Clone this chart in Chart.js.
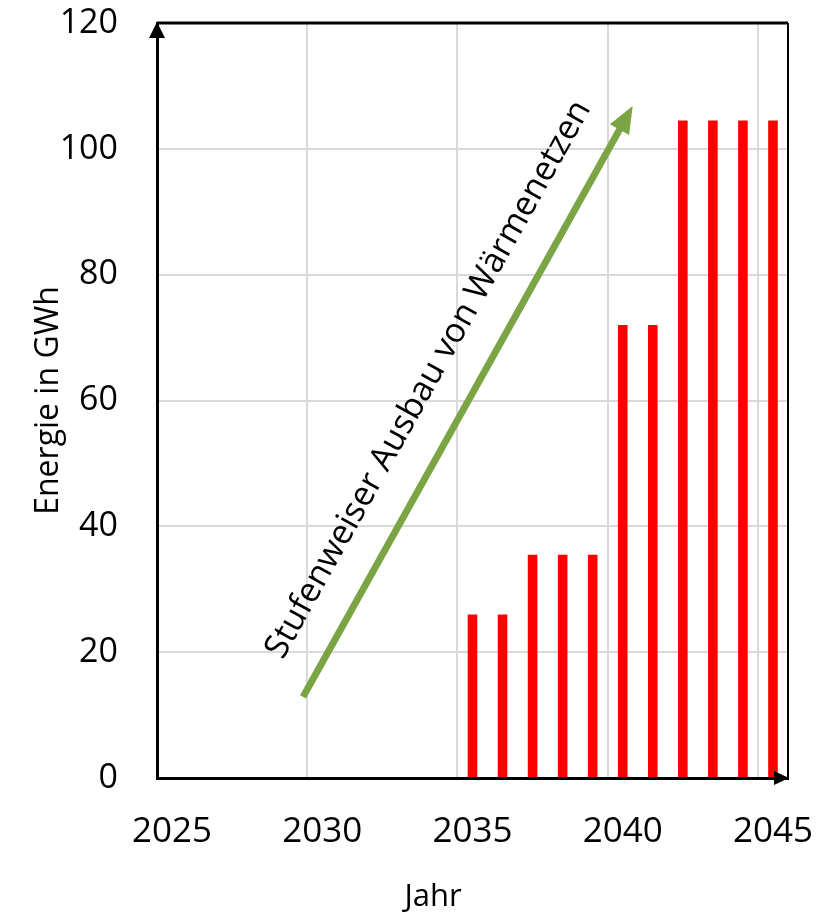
<!DOCTYPE html>
<html>
<head>
<meta charset="utf-8">
<title>Energie in GWh</title>
<script src="https://cdn.jsdelivr.net/npm/chart.js@4.4.1/dist/chart.umd.min.js"></script>
<style>
  html, body { margin: 0; padding: 0; background: #fff; }
  #wrap { width: 829px; height: 917px; }
</style>
</head>
<body>
<div id="wrap"><canvas id="chart" width="829" height="917"></canvas></div>
<script>
// Jahre (Kategorien) und Energie in GWh
var years = ['2025', '2026', '2027', '2028', '2029', '2030', '2031', '2032', '2033', '2034',
             '2035', '2036', '2037', '2038', '2039', '2040', '2041', '2042', '2043', '2044', '2045'];
var energy = [null, null, null, null, null, null, null, null, null, null,
              26, 26, 35.5, 35.5, 35.5, 72, 72, 104.5, 104.5, 104.5, 104.5];
var yTicks = [0, 20, 40, 60, 80, 100, 120];

// Pfeil "Stufenweiser Ausbau": Anfang und Spitze in Datenkoordinaten (Jahr, GWh)
var arrowYears = [2029.86, 2040.83];
var arrowValues = [12.9, 106.8];
var arrowText = 'Stufenweiser Ausbau von Wärmenetzen';

var fontFamily = '"Open Sans", "Noto Sans", sans-serif';

// Kategorie "2025" reicht von 2025 bis 2026 -> Index = Jahr - 2025.5
function yearToIndex(y) { return y - 2025.5; }

// Beschriftungen sollen den Plotbereich nicht verschieben
function noLabelPadding(s) {
  s.paddingTop = 0;
  s.paddingBottom = 0;
  s.paddingLeft = 0;
  s.paddingRight = 0;
}

var framePlugin = {
  id: 'frame',
  afterDraw: function(chart) {
    var ctx = chart.ctx;
    var a = chart.chartArea;
    var xs = chart.scales.x, ys = chart.scales.y;
    ctx.save();

    // oberer und rechter Rahmen
    ctx.strokeStyle = '#000';
    ctx.lineWidth = 3;
    ctx.beginPath();
    ctx.moveTo(a.left, a.top);
    ctx.lineTo(a.right, a.top);
    ctx.stroke();
    ctx.lineWidth = 2;
    ctx.beginPath();
    ctx.moveTo(a.right, a.top);
    ctx.lineTo(a.right, a.bottom);
    ctx.stroke();

    // Achsenpfeile
    ctx.fillStyle = '#000';
    ctx.beginPath();
    ctx.moveTo(a.left, a.top - 1);
    ctx.lineTo(a.left - 8, a.top + 15);
    ctx.lineTo(a.left + 8, a.top + 15);
    ctx.closePath();
    ctx.fill();
    ctx.beginPath();
    ctx.moveTo(a.right + 1, a.bottom);
    ctx.lineTo(a.right - 14, a.bottom - 7);
    ctx.lineTo(a.right - 14, a.bottom + 7);
    ctx.closePath();
    ctx.fill();

    // grüner Pfeil
    var x0 = xs.getPixelForValue(yearToIndex(arrowYears[0]));
    var y0 = ys.getPixelForValue(arrowValues[0]);
    var x1 = xs.getPixelForValue(yearToIndex(arrowYears[1]));
    var y1 = ys.getPixelForValue(arrowValues[1]);
    var ang = Math.atan2(y1 - y0, x1 - x0);
    var headLen = 27, headHalf = 11;
    var bx = x1 - headLen * Math.cos(ang), by = y1 - headLen * Math.sin(ang);
    ctx.strokeStyle = '#7ba545';
    ctx.fillStyle = '#7ba545';
    ctx.lineWidth = 7;
    ctx.beginPath();
    ctx.moveTo(x0, y0);
    ctx.lineTo(bx + 2 * Math.cos(ang), by + 2 * Math.sin(ang));
    ctx.stroke();
    ctx.beginPath();
    ctx.moveTo(x1, y1);
    ctx.lineTo(bx + headHalf * Math.sin(ang), by - headHalf * Math.cos(ang));
    ctx.lineTo(bx - headHalf * Math.sin(ang), by + headHalf * Math.cos(ang));
    ctx.closePath();
    ctx.fill();

    // Beschriftung entlang des Pfeils
    var mx = (x0 + x1) / 2, my = (y0 + y1) / 2;
    var off = 45;
    var tx = mx + off * Math.sin(ang), ty = my - off * Math.cos(ang);
    ctx.translate(tx, ty);
    ctx.rotate(ang);
    ctx.fillStyle = '#000';
    ctx.font = '34px ' + fontFamily;
    ctx.textAlign = 'center';
    ctx.textBaseline = 'middle';
    ctx.fillText(arrowText, 0, 0);
    ctx.restore();

    // x-Achsentitel
    ctx.save();
    ctx.fillStyle = '#000';
    ctx.font = '31px ' + fontFamily;
    ctx.textAlign = 'center';
    ctx.textBaseline = 'middle';
    ctx.fillText('Jahr', 433, 897);
    ctx.restore();
  }
};

var ctx = document.getElementById('chart').getContext('2d');
var chart = new Chart(ctx, {
  type: 'bar',
  data: {
    labels: years,
    datasets: [{
      label: 'Energie',
      data: energy,
      backgroundColor: '#ff0000',
      borderWidth: 0,
      barPercentage: 0.32,
      categoryPercentage: 1
    }]
  },
  options: {
    responsive: false,
    animation: false,
    layout: { padding: { top: 23, right: 41, bottom: 0, left: 0 } },
    plugins: { legend: { display: false }, tooltip: { enabled: false } },
    scales: {
      x: {
        type: 'category',
        offset: true,
        grid: {
          offset: true,
          drawTicks: false,
          lineWidth: 2,
          color: function(c) { return c.index % 5 === 0 ? '#d9d9d9' : 'rgba(0,0,0,0)'; }
        },
        border: { color: '#000', width: 3 },
        ticks: {
          autoSkip: false,
          maxRotation: 0,
          padding: 33,
          color: '#000',
          font: { family: fontFamily, size: 35 },
          callback: function(v, i) { return i % 5 === 0 ? years[i] : ''; }
        },
        afterFit: function(s) { s.height = 139; noLabelPadding(s); }
      },
      y: {
        min: 0,
        max: 120,
        grid: { drawTicks: false, lineWidth: 2, color: '#d9d9d9' },
        border: { color: '#000', width: 3 },
        ticks: {
          padding: 39,
          color: '#000',
          font: { family: fontFamily, size: 34 }
        },
        afterBuildTicks: function(s) { s.ticks = yTicks.map(function(v) { return { value: v }; }); },
        title: {
          display: true,
          text: 'Energie in GWh',
          color: '#000',
          font: { family: fontFamily, size: 32 },
          padding: { top: 30, bottom: 0 }
        },
        afterFit: function(s) { s.width = 157; noLabelPadding(s); }
      }
    }
  },
  plugins: [framePlugin]
});
</script>
</body>
</html>
